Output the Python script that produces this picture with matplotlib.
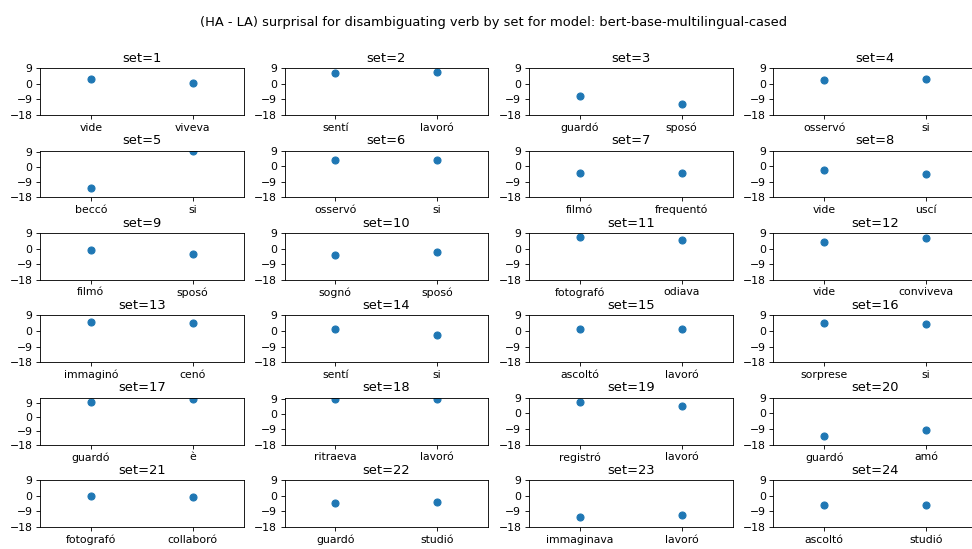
import numpy as np
import matplotlib
matplotlib.use('Agg')
import matplotlib.pyplot as plt

model_name = 'bert-base-multilingual-cased'

# disambiguating verbs per set (HA verb, LA verb)
verbs = [
    ['vide', 'viveva'], ['sentí', 'lavoró'], ['guardó', 'sposó'], ['osservó', 'si'],
    ['beccó', 'si'], ['osservó', 'si'], ['filmó', 'frequentó'], ['vide', 'uscí'],
    ['filmó', 'sposó'], ['sognó', 'sposó'], ['fotografó', 'odiava'], ['vide', 'conviveva'],
    ['immaginó', 'cenó'], ['sentí', 'si'], ['ascoltó', 'lavoró'], ['sorprese', 'si'],
    ['guardó', 'è'], ['ritraeva', 'lavoró'], ['registró', 'lavoró'], ['guardó', 'amó'],
    ['fotografó', 'collaboró'], ['guardó', 'studió'], ['immaginava', 'lavoró'], ['ascoltó', 'studió'],
]

# (HA - LA) surprisal difference for each verb
surprisal_diff = [
    [3.0, 0.4], [6.2, 6.7], [-7.3, -11.6], [2.0, 3.0],
    [-12.2, 9.5], [3.4, 3.4], [-4.0, -4.0], [-2.4, -4.4],
    [-0.6, -3.0], [-3.4, -2.0], [6.5, 5.0], [3.8, 6.0],
    [5.2, 4.6], [1.0, -2.2], [1.4, 1.0], [4.8, 3.8],
    [9.6, 11.9], [9.3, 9.1], [6.5, 4.6], [-12.9, -9.8],
    [0.0, -0.4], [-4.4, -3.8], [-12.0, -11.0], [-5.0, -5.0],
]

set_ids = list(range(1, 25))

dpi = 78
fig, axes = plt.subplots(6, 4, figsize=(972 / dpi, 549 / dpi), dpi=dpi)
fig.subplots_adjust(left=0.0412, right=1.0051, top=0.8756, bottom=0.0401,
                    wspace=0.201, hspace=0.765)

for ax, sid, words, vals in zip(axes.flat, set_ids, verbs, surprisal_diff):
    ax.scatter(words, vals, s=42, color='#1f77b4')
    ax.set_title('set=' + str(sid), fontsize=12)
    ax.set_xlim(-0.5, 1.5)
    top = max(vals)
    ax.set_ylim(-18, top + 0.4 if top > 9 else 9)
    ax.set_yticks([-18, -9, 0, 9])
    ax.tick_params(labelsize=10)

fig.suptitle('(HA - LA) surprisal for disambiguating verb by set for model: ' + model_name,
             fontsize=12, x=0.508, y=0.971)

plt.savefig('out.png', dpi=dpi)
